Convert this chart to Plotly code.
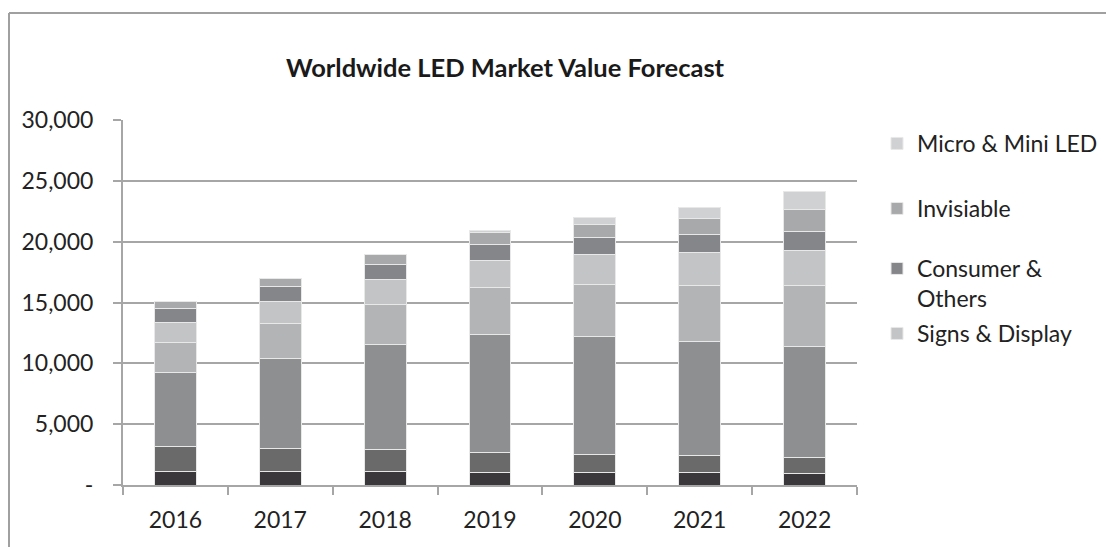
import plotly.graph_objects as go

years = ["2016", "2017", "2018", "2019", "2020", "2021", "2022"]

# stacked segments, bottom to top
seg1 = [1150, 1150, 1100, 1050, 1050, 990, 910]
seg2 = [1980, 1815, 1780, 1640, 1480, 1430, 1310]
seg3 = [6100, 7445, 8650, 9720, 9660, 9360, 9205]
seg4 = [2450, 2850, 3300, 3820, 4285, 4610, 4965]
signs_display = [1670, 1815, 2030, 2220, 2445, 2695, 2915]
consumer_others = [1130, 1210, 1260, 1295, 1400, 1505, 1535]
invisiable = [610, 685, 825, 985, 1100, 1300, 1845]
micro_mini = [0, 0, 0, 170, 550, 950, 1400]

y_ticks = [0, 5000, 10000, 15000, 20000, 25000, 30000]
y_ticktext = ["-", "5,000", "10,000", "15,000", "20,000", "25,000", "30,000"]

L, R, T, B = 123, 249, 120, 62
W, H = 1106, 547
pw, ph = W - L - R, H - T - B

def px_x(x):
    return (x - L) / pw

def px_y(y):
    return (H - B - y) / ph

# (name, values, colour, legend id or None, legend text centre y in px)
series = [
    ("Segment 1", seg1, "#3a383a", None, None),
    ("Segment 2", seg2, "#6a6a6b", None, None),
    ("Segment 3", seg3, "#8e8f91", None, None),
    ("Segment 4", seg4, "#b3b4b5", None, None),
    ("Signs & Display", signs_display, "#c3c4c5", "legend4", 333),
    ("Consumer &<br>Others", consumer_others, "#858689", "legend3", 268),
    ("Invisiable", invisiable, "#a8a9ab", "legend2", 208),
    ("Micro & Mini LED", micro_mini, "#d0d1d3", "legend", 143),
]

FONT = "Lato"
TXT = "#222222"
fig = go.Figure()
legends = {}
for name, vals, color, leg, cy in series:
    kw = {}
    if leg:
        kw["legend"] = leg
        legends[leg] = dict(
            xref="container", yref="container",
            x=877 / W, y=1 - (cy - 21) / H, xanchor="left", yanchor="top",
            valign="top",
            font=dict(family=FONT, size=23, color=TXT),
            itemwidth=30,
            bgcolor="rgba(0,0,0,0)",
        )
    fig.add_trace(go.Bar(
        x=years, y=vals, name=name,
        marker=dict(color=color, line=dict(color="#e8e8e8", width=1)),
        showlegend=bool(leg), **kw,
    ))

fig.update_layout(
    barmode="stack",
    bargap=0.6,
    width=W, height=H,
    margin=dict(l=L, r=R, t=T, b=B, autoexpand=False),
    paper_bgcolor="white",
    plot_bgcolor="white",
    font=dict(family=FONT, size=23, color=TXT),
    title=dict(
        text="<b>Worldwide LED Market Value Forecast</b>",
        x=px_x(505), xanchor="center", xref="paper",
        y=1 - 68 / H, yanchor="middle",
        font=dict(family=FONT, size=25.5, color="#1a1a1a"),
    ),
    xaxis=dict(
        showgrid=False,
        showline=True, linecolor="#a6a6a6", linewidth=2,
        ticks="outside", tickson="boundaries", ticklen=8, tickcolor="#a6a6a6", tickwidth=2,
        ticklabelstandoff=13,
    ),
    yaxis=dict(
        range=[0, 30000],
        tickvals=y_ticks, ticktext=y_ticktext,
        showgrid=True, gridcolor="#a6a6a6", gridwidth=2,
        showline=True, linecolor="#a6a6a6", linewidth=2,
        ticks="outside", ticklen=8, tickcolor="#a6a6a6", tickwidth=2,
        ticklabelstandoff=15,
        zeroline=False,
    ),
    **legends,
)

# outer chart frame (left and top edges)
fig.add_shape(type="line", xref="paper", yref="paper",
              x0=px_x(9), x1=px_x(9), y0=px_y(13), y1=px_y(560),
              line=dict(color="#a0a0a0", width=2))
fig.add_shape(type="line", xref="paper", yref="paper",
              x0=px_x(9), x1=px_x(1106), y0=px_y(13), y1=px_y(13),
              line=dict(color="#a0a0a0", width=2))

fig.write_html("out.html", config={"displayModeBar": False},
               post_script="document.body.style.margin='0';")
